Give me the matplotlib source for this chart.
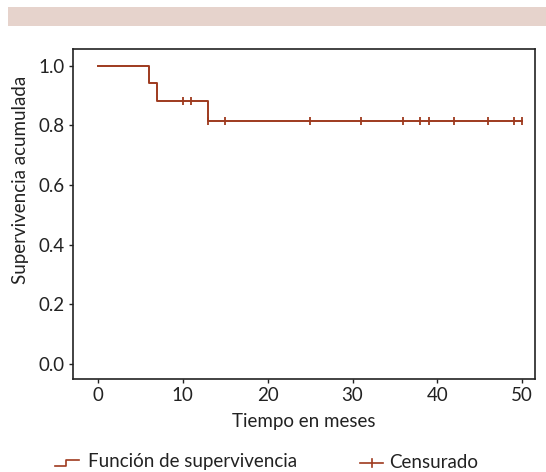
import matplotlib
matplotlib.use("Agg")
import matplotlib.pyplot as plt
from matplotlib.lines import Line2D
from matplotlib.patches import Rectangle

# Data
step_times = [0, 6, 7, 13, 50]
survival = [1.0, 0.941, 0.882, 0.814, 0.814]
censor_times = [10, 11, 13, 15, 25, 31, 36, 38, 39, 42, 46, 49, 50]
censor_surv = [0.882, 0.882, 0.814, 0.814, 0.814, 0.814, 0.814, 0.814, 0.814, 0.814, 0.814, 0.814, 0.814]
x_ticks = [0, 10, 20, 30, 40, 50]
y_ticks = [0.0, 0.2, 0.4, 0.6, 0.8, 1.0]

plt.rcParams['font.family'] = ['Lato', 'DejaVu Sans']
col = '#9e3a1e'
W, H = 546, 472
fig = plt.figure(figsize=(W/100, H/100), dpi=100)

# header band
fig.add_artist(Rectangle((8/W, 1-26/H), 1, 19/H, transform=fig.transFigure,
                         facecolor='#e6d3cc', edgecolor='none'))

ax = fig.add_axes([73.3/W, 1-379/H, (535-73.3)/W, (379-49.3)/H])
ax.step(step_times, survival, where='post', color=col, lw=1.4)
ax.plot(censor_times, censor_surv, linestyle='none', marker='|', ms=6, mew=1.3, color=col)
ax.set_xlim(-2.9, 51.5)
ax.set_ylim(-0.05, 1.055)
ax.set_xticks(x_ticks)
ax.set_yticks(y_ticks)
ax.set_yticklabels([f"{v:.1f}" for v in y_ticks])
ax.tick_params(labelsize=13.5, length=3, width=1, pad=3, colors='#222222', labelcolor='#222222')
for s in ax.spines.values():
    s.set_linewidth(1.2)
    s.set_color('#222222')
ax.set_xlabel('Tiempo en meses', fontsize=13.5, color='#222222', va='center')
ax.set_ylabel('Supervivencia acumulada', fontsize=13.5, color='#222222', va='center')
ax.xaxis.set_label_coords(0.5, (379-421.5)/(379-49.3))
ax.yaxis.set_label_coords((21-73.3)/(535-73.3), (379-180)/(379-49.3))

# legend (manual)
ly = 1-462/H
fig.add_artist(Line2D([55/W, 66/W, 66/W, 79/W], [1-466/H, 1-466/H, 1-460/H, 1-460/H],
                      transform=fig.transFigure, color=col, lw=1.2))
fig.text(88/W, ly, 'Función de supervivencia', fontsize=13.5, va='center', ha='left', color='#222222')
fig.add_artist(Line2D([360/W, 383/W], [1-463/H, 1-463/H], transform=fig.transFigure, color=col, lw=1.2))
fig.add_artist(Line2D([371.5/W, 371.5/W], [1-467/H, 1-459/H], transform=fig.transFigure, color=col, lw=1.2))
fig.text(389/W, ly, 'Censurado', fontsize=13.5, va='center', ha='left', color='#222222')

fig.savefig('out.png', dpi=100)
